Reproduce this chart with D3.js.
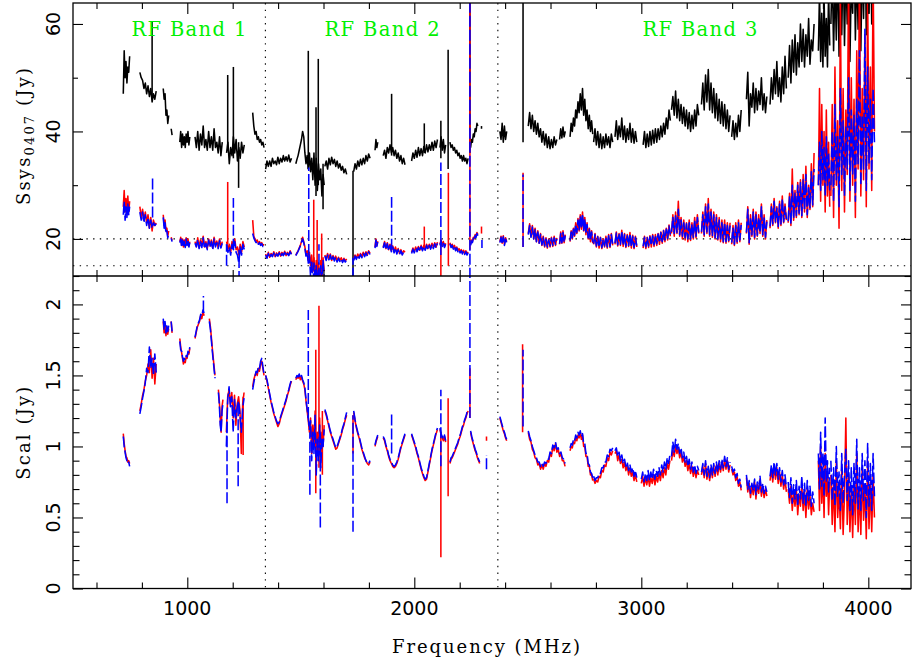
<!DOCTYPE html>
<html><head><meta charset="utf-8">
<script src="https://cdn.jsdelivr.net/npm/d3@7"></script>
<style>body{margin:0;background:#fff}svg{display:block}</style>
</head><body>
<svg id="chart" width="912" height="664"></svg>
<script>
// ---------------- DATA ----------------
// Each segment: [start frequency MHz, step MHz, values]
const ssysBlack = [
 [718,4,[47,55,50,53,49,52,51,54]],
 [791,6,[51,50,49.5,48,49,47,48.5,46.5,48,45.5,47,46,47.5]],
 [894,4,[48,46,47,43,44,41.5,43]],
 [929,4,[40.5,39.3]],
 [967,4,[38,40,37,39.5,37.5,39,37,39.5,38,40,37.5,39]],
 [1034,6,[39,37,40,36.5,39.5,37.5,41,37,38.5,36.5,40,37,39,36.5,40.5,37,38,36,39,35.5,38]],
 [1173,6,[36,38,34,37,35.5,39,36,38.5,34.5,37,35,38,36,37.5]],
 [1288,5,[43.5,41,39.5,40,38.5,39,38,38.5,37.5,38,37]],
 [1345,6,[33,34.5,33.5,34.5,33.5,35,34,34.5,33.8,35.2,34,35,34.3,35.5,34.5,35.3,34.5,35.6,34.3,35]],
 [1478,5,[34,34.8,35.5,36.5,37.5,38.5,40,39,36,34,35.5,33,36,32.5,35,31,36,30,35,29,34,31,33,28,32,30]],
 [1606,6,[33.5,34.5,33,35,33.8,35.2,34,34.8,33.5,34.5,33.2,34,32.8,33.5,32.3,33,32]],
 [1733,6,[32.5,34,33,34.5,33.5,34.8,33.8,35,34,35.5,34.5,35.8,35]],
 [1827,4,[36.5,38.5,37,38]],
 [1863,6,[35.5,36.5,35,37,36,37.5,36,37,35.5,36.5,35,36,34.5,35.5,34,35,33.8]],
 [1988,6,[34.5,36,35,36.5,35.2,37,35.5,36.8,35.5,37.2,36,37.5,36.2,37.5,36.5,38,36.5,38.2,37,38.5]],
 [2113,5,[37,39,36.5,38.5,36,37.5]],
 [2157,5,[38,37,37.5,36.5,37,36,36.5,35.5,36,35,35.5,34.5,35.5,34.5,35,34,35]],
 [2248,4,[37,38.5,38,39.5,39,40.5,40,41.5,41]],
 [2377,5,[40,38.5,41.5,38,41,38.5,40]],
 [2502,6,[41,43.5,40.5,43,40,42,39.5,41.5,39,40.5,38,40,37.5,39.5,37,39,36.8,38.5,37,39,37.5,38.5]],
 [2640,5,[38.5,40.5,38.8,40.8,39,40]],
 [2686,5,[39,41.5,40,42.5,41,44,42.5,45.5,43.5,47,44,48,43,46,42,44,40.5,43,40,42,39.5]],
 [2790,6,[38,40.5,37.5,40,37,39.5,36.8,39,37,39.5,37.5,39,37,39.5,38]],
 [2884,6,[39,42,38.5,41,39,42.5,38.5,41,38,40.5,38.5,41.5,38,40.5,37.8,40,38]],
 [3008,6,[37.5,40,37,39.5,37.2,40,37.5,40.2,37.8,40.5,38,40.5,38.5,41,39,41.5,39.5,42.5,40.5,44,42]],
 [3133,6,[44,46.5,43,47.5,42.5,46,42,45,41.5,44.5,41,44,40.5,43.5,40,43,40.5,44,41,45,43]],
 [3265,6,[45,49,44,50.5,45.5,51.5,44,49,43.5,48,42.5,47,42,46,41.5,45.5,41,45,40.5,44,40,43]],
 [3398,6,[39,42,38.5,41.5,39,43,40,44]],
 [3463,6,[46,51,41,47,44.5,49,43.5,48,44,47.5,45,50,44,47,43.5,46.5]],
 [3567,6,[45,50,46,51.5,47,53,46.5,50,45.5,52,47,54,48]],
 [3647,6,[50,56,49,57,51,58,50.5,56.5,52,60,53,59,52,58,54,61,52.5,57,55,60]],
 [3780,5,[55,66,53,62,52,65,54,61,52,66,56]],
 [3835,6,[60,70,55,68,57,72,54,66,58,74,56,70,60,75,53,68,62,76,57,70,59,78,55,72,61,80,58,74,62,82,60,78,66]]
];
const ssysBlackSpikes = [[845,46,60.5],[1178,37,50.5],[1203,35,52],[1226,29.5,38],[1533,33,55],[1567,28,44.5],[1577,30,53.5],[1598,25.5,34],[1730,10,32.7],[1900,35.5,47],[2044,36,41.5],[2117,35,42],[2149,33,55.2],[2245,36,70],[2296,40.5,41],[2479,38,70]];

const ssysRed = [
 [718,4,[26,29,25,27.5,24.5,28,25,27]],
 [791,6,[26,24,25.5,23.5,25,23,24.5,22,24,21.5,23.5,22.5,23]],
 [894,4,[24.5,22.5,23.5,21.5,22,20.5,21.5]],
 [929,4,[20.3,19.7]],
 [967,4,[19.5,20.3,18.8,20,18.5,19.8,18.6,20.2,19,20,18.7,19.5]],
 [1034,6,[19.5,18.6,20.2,18.4,19.8,18.8,20.5,18.5,19.5,18.2,20,18.7,19.8,18.3,20.3,18.8,19.6,18.4,20,18.5,19.5]],
 [1173,6,[19.5,18,19,17.5,19.5,18.5,20,18,18.5,17,19,17.5,19.5,18.5]],
 [1288,5,[23.5,20.5,20,19.5,19.8,19.2,19.5,19,19.3,18.8,19]],
 [1345,6,[17.2,16.5,17.5,16.6,17.3,16.8,17.6,16.7,17.4,16.9,17.6,16.8,17.5,17,17.7,16.9,17.5,17,17.8,17.2]],
 [1478,5,[17,17.4,17.8,18.3,18.8,19.5,20.3,19.5,18.5,17,17.8,16,17.5,15,17,14,16.5,12,16,13,15.5,11,16,12,16.5,14]],
 [1606,6,[17,16.2,17.3,16.3,17.2,16,16.9,16.1,16.8,15.9,16.6,16,16.5,15.8,16.4,15.9,16.3]],
 [1733,6,[16.2,17,16.4,17.2,16.6,17.3,16.7,17.5,16.9,17.6,17,17.8,17.3]],
 [1827,4,[18.5,20,18.8,19.6]],
 [1863,6,[18.5,19.5,18.2,19.3,18,19,17.8,18.7,17.6,18.5,17.4,18.2,17.3,18,17.2,17.8,17.5]],
 [1988,6,[17.5,18.3,17.6,18.5,17.8,18.6,17.9,18.8,18,18.8,18.1,19,18.2,19,18.3,19.2,18.4,19.3,18.5,19.4]],
 [2113,5,[19,19.8,18.8,19.5,18.6,19.2]],
 [2157,5,[19.3,18.6,19,18.3,18.8,18,18.5,17.8,18.2,17.6,18,17.4,17.9,17.3,17.8,17.2,17.6]],
 [2248,4,[19,19.8,19.5,20.3,20,20.8,20.5,21.2,20.8]],
 [2377,5,[19.5,20.5,19.2,20.6,19,20.2,19.5]],
 [2502,6,[21,22.8,20.5,22.5,20,22,19.5,21.5,19.2,21,18.8,20.5,18.5,20.2,18.3,20,18.5,20.3,18.6,20.5,18.8,20.2]],
 [2640,5,[19,21.3,19.2,21.5,19.3,20.8]],
 [2686,5,[19.5,21.5,20,22,20.5,23,21,23.8,21.5,24.5,21.8,25,21.5,24,20.8,23,20,22,19.5,21.5,19.2]],
 [2790,6,[19,21,18.5,20.5,18.3,20.3,18.2,20,18.5,20.5,18.3,20.8,18.4,21,18.8]],
 [2884,6,[19,21.3,18.7,21,18.8,21.6,18.6,21,18.4,20.8,18.6,21.2,18.3,20.7,18.2,20.5,18.5]],
 [3008,6,[18.3,20.5,18.2,20.3,18.4,20.6,18.5,20.8,18.6,20.8,18.8,21,19,21.3,19.2,21.6,19.5,22,19.8,22.6,20.5]],
 [3133,6,[21,24.5,20.5,25,21,27,20.5,24,20,23.5,19.8,23,19.5,23.5,19.7,23,20,24,20.2,24.5,21]],
 [3265,6,[21,25,20.5,26.5,21,27.5,20.5,25.5,20.3,25,20,24.5,19.8,24,19.5,23.5,19.3,23.5,19.2,23,19.5,23]],
 [3398,6,[19,22.5,18.8,23,19.2,23.5,19.5,23]],
 [3463,6,[21,26,19,24.5,20.5,25.5,20,25,20.5,24.5,21,26.5,20.5,24.5,20,23.5]],
 [3567,6,[22,26.5,22.5,27.5,23,26,22,27,22.5,28,23,26.5,23.5]],
 [3647,6,[23,28.5,22.5,33,23.5,29,24,30.5,24.5,31,24,32,25,33.5,24,30,25.5,34,26,36]],
 [3780,5,[30,48,27,45,30,40,25,44,28,38,26]],
 [3835,6,[28,45,24,52,30,42,22,64,29,48,25,44,32,70,27,50,30,46,24,55,33,70,28,48,31,58,26,66,33,52,29,70,40]]
];
const ssysRedSpikes = [[1178,19,30.6],[1557,14,27.3],[1572,10,23.5],[1592,10,21],[2044,18.5,22.3],[2117,10,19],[2150,15,32.3],[2245,18,70],[2296,21,22.3],[2479,18.5,32.3]];

const ssysBlue = [
 [718,4,[24.5,27,23.5,26,24,26.5,24.5,26]],
 [791,6,[25,23.5,25,23,24.5,22.5,24,22,23.5,22,23,22.5,22.8]],
 [894,4,[24,22,23,21,21.5,20.2,21]],
 [929,4,[20.1,19.5]],
 [967,4,[19.3,20,18.5,19.8,18.7,19.5,18.4,20,18.8,19.7,18.5,19.3]],
 [1034,6,[19.2,18.5,19.9,18.2,19.5,18.4,20.2,18.2,19.2,18,19.8,18.5,19.5,18,20,18.5,19.3,18.2,19.7,18.3,19.2]],
 [1173,6,[19,17.5,18.5,17,19,18,19.5,17.5,17,15.5,18.5,17,19,18]],
 [1288,5,[21,20.2,19.7,19.3,19.6,19,19.3,18.8,19.1,18.6,18.8]],
 [1345,6,[17,16.4,17.3,16.5,17.1,16.7,17.4,16.6,17.2,16.8,17.4,16.7,17.3,16.9,17.5,16.8,17.3,16.9,17.6,17.1]],
 [1478,5,[16.9,17.3,17.7,18.2,18.7,19.4,20,19.3,18.3,16.8,17.5,15.5,17,13,16,11,15.5,12,15,11,14.5,10,15,11,16,13]],
 [1606,6,[16.8,16,17,16.1,17,15.9,16.7,15.9,16.6,15.7,16.4,15.8,16.3,15.6,16.2,15.7,16.1]],
 [1733,6,[16,16.8,16.2,17,16.4,17.1,16.5,17.3,16.7,17.4,16.8,17.6,17.1]],
 [1827,4,[18.3,19.8,18.6,19.4]],
 [1863,6,[18.3,19.3,18,19.1,17.8,18.8,17.6,18.5,17.4,18.3,17.2,18,17.1,17.8,17,17.6,17.3]],
 [1988,6,[17.3,18.1,17.4,18.3,17.6,18.4,17.7,18.6,17.8,18.6,17.9,18.8,18,18.8,18.1,19,18.2,19.1,18.3,19.2]],
 [2113,5,[18.8,19.6,18.6,19.3,18.4,19]],
 [2157,5,[19.1,18.4,18.8,18.1,18.6,17.8,18.3,17.6,18,17.4,17.8,17.2,17.7,17.1,17.6,17,17.4]],
 [2248,4,[18.8,19.6,19.3,20.1,19.8,20.6,20.3,21,20.6]],
 [2377,5,[19.3,20.3,19,20.4,18.8,20,19.3]],
 [2502,6,[20.8,22.5,20.3,22.2,20,21.7,19.5,21.3,19.2,20.8,18.9,20.3,18.7,20,18.5,19.8,18.7,20.1,18.8,20.2,19,20]],
 [2640,5,[19.1,21,19.3,21.2,19.4,20.6]],
 [2686,5,[19.7,21.3,20.2,21.8,20.7,22.7,21.2,23.5,21.7,24.2,22,24.6,21.6,23.7,21,22.7,20.2,21.8,19.7,21.3,19.4]],
 [2790,6,[19.1,20.8,18.7,20.4,18.5,20.2,18.4,19.9,18.7,20.4,18.5,20.6,18.6,20.8,19]],
 [2884,6,[19.2,21.1,18.9,20.8,19,21.4,18.8,20.8,18.6,20.6,18.8,21,18.5,20.5,18.4,20.3,18.7]],
 [3008,6,[18.6,20.3,18.5,20.2,18.7,20.4,18.8,20.6,18.9,20.7,19.1,20.9,19.3,21.2,19.5,21.5,19.8,21.8,20.1,22.4,20.8]],
 [3133,6,[21.3,24,21,24.3,21.2,25.5,20.8,23.5,20.5,23,20.2,22.8,20,23,20,22.7,20.3,23.5,20.5,24,21.2]],
 [3265,6,[21.3,24.5,20.8,26,21.3,26.5,20.8,25,20.5,24.5,20.2,24,20,23.5,19.8,23,19.5,23,19.5,22.5,19.7,22.5]],
 [3398,6,[19.3,22,19,22.5,19.5,23,19.8,22.6]],
 [3463,6,[21.2,25.5,19.3,24,20.8,25,20.3,24.5,20.7,24,21.2,26,20.8,24,20.3,23.2]],
 [3567,6,[22.3,26,22.8,27,23.2,25.7,22.3,26.5,22.8,27.5,23.2,26,23.7]],
 [3647,6,[23.3,28,22.8,30,23.8,28.5,24.3,30,24.8,30.5,24.3,31,25.3,32,24.5,29.5,25.8,32.5,26.3,33]],
 [3780,5,[30,38,29,40,31,37,28,39,30,36,29]],
 [3835,6,[30,40,27,45,31,39,26,48,32,42,28,41,33,50,29,44,32,43,27,46,34,55,30,43,33,59,29,52,34,46,31,48,38]]
];
const ssysBlueSpikes = [[847,24,31.5],[1173,15,19],[1203,18,27.6],[1228,12,18],[1535,17,33.3],[1580,10,19],[1730,10,16.5],[1900,18,27.8],[2117,17,34.2],[2245,10,70],[2298,18.3,19.8],[2479,18.5,32]];

const scalRed = [
 [718,4,[1.09,1.02,0.97,0.93,0.92,0.89,0.9,0.88]],
 [791,6,[1.25,1.3,1.36,1.4,1.46,1.5,1.58,1.52,1.68,1.48,1.62,1.44,1.58]],
 [894,4,[1.88,1.8,1.86,1.78,1.84,1.79,1.83]],
 [929,4,[1.88,1.8]],
 [967,4,[1.76,1.7,1.66,1.62,1.58,1.6,1.59,1.63,1.62,1.66,1.65,1.69]],
 [1034,5,[1.76,1.8,1.84,1.86,1.88,1.92,1.9,1.95,1.92]],
 [1097,5,[1.9,1.84,1.75,1.66,1.58,1.5]],
 [1137,4,[1.4,1.32,1.2,1.1,1.28,1.33]],
 [1172,6,[1.1,1.35,1.4,1.3,1.38,1.2,1.36,1.15,1.3,1.35,1.25,0.95,1.3,1.38]],
 [1288,5,[1.42,1.47,1.5,1.52,1.5,1.55,1.53,1.58,1.6,1.55,1.5]],
 [1345,6,[1.5,1.46,1.41,1.36,1.31,1.27,1.23,1.2,1.17,1.14,1.16,1.2,1.23,1.26,1.29,1.32,1.36,1.39,1.43,1.46]],
 [1478,5,[1.47,1.49,1.48,1.5,1.47,1.49,1.46,1.44,1.4,1.32,1.25,1.18,1.1,1.2,0.95,1.15,1.0,1.25,0.85,1.1,0.95,1.2,0.9,1.1,1.0,1.15]],
 [1606,6,[1.25,1.22,1.18,1.14,1.1,1.07,1.04,1.01,0.98,0.99,1.02,1.05,1.08,1.12,1.15,1.19,1.22]],
 [1733,6,[1.24,1.18,1.13,1.09,1.06,1.02,0.98,0.95,0.92,0.9,0.88,0.87,0.89]],
 [1827,4,[1.0,1.03,1.05,1.07]],
 [1863,6,[1.06,1.04,1.0,0.97,0.93,0.9,0.88,0.86,0.85,0.86,0.88,0.91,0.95,0.99,1.02,1.05,1.08]],
 [1988,6,[1.08,1.05,1.02,0.99,0.95,0.92,0.88,0.84,0.81,0.78,0.76,0.77,0.82,0.87,0.92,0.97,1.01,1.05,1.09,1.12]],
 [2113,5,[1.12,1.08,1.06,1.04,1.07,1.03]],
 [2157,5,[0.88,0.91,0.92,0.94,0.96,0.98,1.0,1.02,1.05,1.07,1.1,1.13,1.15,1.18,1.2,1.23,1.25]],
 [2248,5,[1.1,1.06,1.03,1.0,0.97,0.95,0.92,0.9,0.88]],
 [2377,5,[1.2,1.17,1.14,1.11,1.09,1.06,1.04]],
 [2502,6,[1.1,1.05,1.03,0.98,0.96,0.92,0.91,0.87,0.88,0.84,0.87,0.84,0.88,0.86,0.9,0.89,0.95,0.93,1.0,0.97,1.02,0.96,0.98,0.93,0.95,0.9,0.9,0.86]],
 [2686,5,[0.97,1.0,0.99,1.03,1.02,1.06,1.04,1.08,1.06,1.1,1.05,1.08,1.0,1.0,0.93,0.93,0.86,0.86,0.8,0.8,0.76]],
 [2790,6,[0.77,0.74,0.76,0.75,0.79,0.78,0.83,0.82,0.87,0.86,0.92,0.9,0.96,0.94,0.97]],
 [2884,6,[0.95,0.97,0.9,0.94,0.88,0.91,0.85,0.89,0.83,0.87,0.8,0.85,0.79,0.82,0.76,0.8,0.75]],
 [3000,6,[0.74,0.79,0.72,0.78,0.73,0.79,0.72,0.78,0.74,0.8,0.73,0.79,0.75,0.81,0.76,0.83,0.78,0.85,0.8,0.88,0.84,0.9]],
 [3133,6,[0.9,0.97,0.93,1.0,0.95,0.99,0.92,0.96,0.89,0.93,0.86,0.9,0.83,0.88,0.81,0.86,0.79,0.84,0.78,0.83,0.8]],
 [3265,6,[0.8,0.86,0.78,0.88,0.77,0.84,0.76,0.85,0.78,0.86,0.79,0.87,0.8,0.88,0.82,0.89,0.83,0.91,0.84,0.9,0.82,0.87]],
 [3398,6,[0.84,0.8,0.82,0.76,0.79,0.72,0.75,0.69]],
 [3463,6,[0.78,0.68,0.74,0.64,0.72,0.66,0.75,0.63,0.73,0.67,0.77,0.65,0.72,0.64,0.7,0.65]],
 [3567,6,[0.76,0.84,0.75,0.86,0.77,0.85,0.74,0.82,0.72,0.8,0.7,0.77,0.68]],
 [3647,6,[0.7,0.6,0.72,0.55,0.68,0.58,0.7,0.52,0.66,0.58,0.72,0.55,0.68,0.5,0.7,0.56,0.65,0.52,0.6,0.54]],
 [3780,5,[0.9,0.55,1.0,0.6,0.85,0.5,0.95,0.65,0.8,0.52,0.75]],
 [3835,6,[0.8,0.45,0.75,0.4,0.9,0.5,0.7,0.42,0.85,0.38,0.65,1.2,0.45,0.8,0.4,0.7,0.36,0.75,0.45,0.95,0.4,0.7,0.38,0.85,0.48,0.72,0.35,0.9,0.42,0.75,0.4,0.8,0.5]]
];
const scalRedSpikes = [[1246,0.94,1.35],[1566,0.67,1.68],[1580,0.85,1.99],[1595,0.8,1.25],[1730,0.95,1.22],[2117,0.22,1.1],[2149,0.65,1.34],[2245,1.2,1.55],[2318,1.04,1.07],[2477,1.1,1.72]];

const scalBlue = [
 [718,4,[1.07,1.0,0.96,0.92,0.9,0.88,0.89,0.86]],
 [791,6,[1.23,1.28,1.34,1.39,1.45,1.55,1.52,1.7,1.55,1.62,1.5,1.65,1.52]],
 [894,4,[1.9,1.82,1.88,1.8,1.86,1.81,1.85]],
 [929,4,[1.88,1.81]],
 [967,4,[1.74,1.68,1.67,1.63,1.6,1.62,1.61,1.64,1.63,1.67,1.66,1.7]],
 [1034,5,[1.77,1.81,1.85,1.87,1.89,1.93,1.92,1.96,1.94]],
 [1097,5,[1.88,1.82,1.73,1.64,1.56,1.48]],
 [1137,4,[1.38,1.3,1.15,1.1,1.25,1.3]],
 [1172,6,[1.0,1.33,1.42,1.28,1.35,1.1,1.33,1.2,1.28,1.32,1.22,1.1,1.27,1.34]],
 [1288,5,[1.4,1.45,1.49,1.53,1.52,1.56,1.55,1.6,1.62,1.56,1.51]],
 [1345,6,[1.5,1.47,1.42,1.37,1.32,1.28,1.24,1.21,1.18,1.16,1.17,1.21,1.24,1.27,1.3,1.33,1.37,1.4,1.44,1.47]],
 [1478,5,[1.48,1.5,1.49,1.51,1.48,1.5,1.47,1.45,1.41,1.33,1.26,1.2,1.12,1.18,0.9,1.1,0.95,1.22,0.8,1.05,0.9,1.15,0.85,1.05,1.0,1.12]],
 [1606,6,[1.26,1.23,1.19,1.15,1.11,1.08,1.05,1.02,0.99,1.0,1.03,1.06,1.09,1.13,1.16,1.2,1.24]],
 [1733,6,[1.25,1.19,1.14,1.1,1.07,1.03,0.99,0.96,0.93,0.9,0.88,0.88,0.9]],
 [1827,4,[1.01,1.04,1.06,1.08]],
 [1863,6,[1.07,1.05,1.01,0.98,0.94,0.91,0.89,0.87,0.86,0.87,0.89,0.92,0.96,1.0,1.03,1.06,1.09]],
 [1988,6,[1.09,1.06,1.03,1.0,0.96,0.93,0.89,0.85,0.82,0.79,0.77,0.78,0.83,0.88,0.93,0.98,1.02,1.06,1.1,1.13]],
 [2113,5,[1.13,1.09,1.07,1.05,1.08,1.04]],
 [2157,5,[0.89,0.92,0.93,0.95,0.97,0.99,1.01,1.03,1.06,1.08,1.11,1.14,1.16,1.19,1.21,1.24,1.26]],
 [2248,5,[1.11,1.07,1.04,1.01,0.98,0.96,0.93,0.91,0.89]],
 [2377,5,[1.21,1.18,1.15,1.12,1.1,1.07,1.05]],
 [2502,6,[1.11,1.07,1.04,1.0,0.97,0.94,0.92,0.89,0.89,0.86,0.88,0.86,0.89,0.88,0.91,0.91,0.96,0.95,1.01,0.99,1.03,0.98,0.99,0.95,0.96,0.92,0.91,0.88]],
 [2686,5,[0.99,1.02,1.01,1.05,1.04,1.08,1.06,1.1,1.08,1.11,1.07,1.09,1.02,1.02,0.95,0.95,0.88,0.87,0.82,0.81,0.78]],
 [2790,6,[0.79,0.76,0.78,0.78,0.81,0.81,0.85,0.85,0.89,0.89,0.94,0.93,0.98,0.97,0.99]],
 [2884,6,[0.97,0.99,0.93,0.96,0.9,0.94,0.88,0.91,0.86,0.89,0.83,0.87,0.82,0.85,0.79,0.83,0.78]],
 [3000,6,[0.77,0.82,0.75,0.81,0.76,0.83,0.76,0.82,0.77,0.84,0.77,0.83,0.79,0.85,0.8,0.87,0.82,0.89,0.84,0.92,0.88,0.94]],
 [3133,6,[0.93,1.03,0.96,1.05,0.98,1.02,0.95,0.99,0.92,0.96,0.89,0.93,0.86,0.91,0.84,0.89,0.82,0.87,0.81,0.86,0.83]],
 [3265,6,[0.82,0.88,0.8,0.9,0.79,0.86,0.78,0.87,0.8,0.88,0.81,0.89,0.82,0.9,0.84,0.91,0.85,0.93,0.86,0.92,0.84,0.89]],
 [3398,6,[0.86,0.82,0.84,0.78,0.81,0.74,0.77,0.71]],
 [3463,6,[0.8,0.7,0.76,0.67,0.74,0.69,0.77,0.66,0.75,0.7,0.79,0.68,0.74,0.67,0.72,0.68]],
 [3567,6,[0.79,0.87,0.78,0.89,0.8,0.88,0.77,0.85,0.75,0.83,0.73,0.8,0.71]],
 [3647,6,[0.75,0.64,0.78,0.6,0.73,0.63,0.76,0.58,0.72,0.63,0.79,0.6,0.74,0.58,0.76,0.62,0.72,0.58,0.68,0.6]],
 [3780,5,[0.95,0.7,1.1,0.72,0.95,0.65,1.2,0.75,0.9,0.68,0.85]],
 [3835,6,[0.9,0.62,0.85,0.58,1.0,0.65,0.82,0.55,0.95,0.6,0.8,0.98,0.62,0.9,0.55,0.85,0.52,0.88,0.6,1.05,0.56,0.85,0.55,0.95,0.62,0.9,0.5,1.02,0.58,0.88,0.55,0.95,0.65]]
];
const scalBlueSpikes = [[1071,1.95,2.06],[1175,0.6,1.2],[1224,0.72,1.3],[1533,1.2,1.96],[1540,0.66,1.1],[1586,0.43,1.1],[1730,0.4,1.22],[1900,0.95,1.24],[2117,0.86,1.4],[2245,1.2,2.4],[2318,0.84,0.94],[2479,1.14,1.68]];

const bandEdges = [1344, 2368];
const bandLabels = ["RF Band 1", "RF Band 2", "RF Band 3"];
const bandLabelFreq = [1007, 1858, 3258];
const ssysRefLines = [20, 15];
const xMajorTicks = [1000, 2000, 3000, 4000];
const xMinorTicks = [600, 800, 1200, 1400, 1600, 1800, 2200, 2400, 2600, 2800, 3200, 3400, 3600, 3800, 4200];
const ssysMajorTicks = [20, 40, 60];
const ssysMinorTicks = [30, 50];
const scalMajorTicks = [0, 0.5, 1, 1.5, 2];
const scalMinorTicks = [0.1,0.2,0.3,0.4,0.6,0.7,0.8,0.9,1.1,1.2,1.3,1.4,1.6,1.7,1.8,1.9,2.1,2.2];

// ---------------- LAYOUT ----------------
const L = 73, R = 911, T = 3, MID = 276, B = 588.5;
const x = d3.scaleLinear().domain([496.5, 4188]).range([L, R]);
const yTop = d3.scaleLinear().domain([13.1, 63.9]).range([MID, T]);
const yBot = d3.scaleLinear().domain([0, 2.2]).range([B, MID]);

const svg = d3.select('#chart');
svg.append('rect').attr('width', 912).attr('height', 664).attr('fill', '#fff');
const defs = svg.append('defs');
defs.append('clipPath').attr('id', 'clipTop').append('rect')
  .attr('x', L).attr('y', T).attr('width', R - L).attr('height', MID - T);
defs.append('clipPath').attr('id', 'clipBot').append('rect')
  .attr('x', L).attr('y', MID).attr('width', R - L).attr('height', B - MID);

const TEXT_SERIF = "'DejaVu Serif', 'Liberation Serif', serif";
const TEXT_SANS = "'DejaVu Sans', 'Liberation Sans', sans-serif";

// reference dotted lines
const gRef = svg.append('g').attr('stroke', '#000').attr('stroke-width', 1.1)
  .attr('stroke-dasharray', '1.4,5.3').attr('fill', 'none');
ssysRefLines.forEach(v => gRef.append('line')
  .attr('x1', L).attr('x2', R).attr('y1', yTop(v)).attr('y2', yTop(v)));
bandEdges.forEach(f => gRef.append('line')
  .attr('x1', x(f)).attr('x2', x(f)).attr('y1', T).attr('y2', B));

function segPoints(seg) {
  const [f0, df, vals] = seg;
  return vals.map((v, i) => [f0 + i * df, v]);
}
function drawSeries(clipId, y, segs, spikes, color, dash) {
  const g = svg.append('g').attr('clip-path', `url(#${clipId})`)
    .attr('fill', 'none').attr('stroke', color).attr('stroke-width', 1.55)
    .attr('stroke-linejoin', 'round');
  if (dash) g.attr('stroke-dasharray', dash);
  const line = d3.line().x(d => x(d[0])).y(d => y(d[1]));
  segs.forEach(s => g.append('path').attr('d', line(segPoints(s))));
  spikes.forEach(([f, lo, hi]) => g.append('path').attr('d', line([[f, lo], [f, hi]])));
}

drawSeries('clipTop', yTop, ssysBlack, ssysBlackSpikes, '#000', null);
drawSeries('clipTop', yTop, ssysRed, ssysRedSpikes, '#ff0000', null);
drawSeries('clipTop', yTop, ssysBlue, ssysBlueSpikes, '#0000ff', '11,3');
drawSeries('clipBot', yBot, scalRed, scalRedSpikes, '#ff0000', null);
drawSeries('clipBot', yBot, scalBlue, scalBlueSpikes, '#0000ff', '11,3');

// ---------------- AXES ----------------
function styleAxis(g) {
  g.select('.domain').remove();
  g.selectAll('.tick line').attr('stroke', '#000').attr('stroke-width', 1.1);
  g.selectAll('.tick text').remove();
}
function addAxis(axis, tx, ty) {
  const g = svg.append('g').attr('transform', `translate(${tx},${ty})`).call(axis);
  styleAxis(g);
  return g;
}
[[d3.axisBottom, B], [d3.axisTop, MID], [d3.axisBottom, MID], [d3.axisTop, T]].forEach(([fn, yy]) => {
  addAxis(fn(x).tickValues(xMajorTicks).tickSize(-11).tickSizeOuter(0), 0, yy);
  addAxis(fn(x).tickValues(xMinorTicks.filter(t => x(t) <= R)).tickSize(-6).tickSizeOuter(0), 0, yy);
});
addAxis(d3.axisLeft(yTop).tickValues(ssysMajorTicks).tickSize(-10).tickSizeOuter(0), L, 0);
addAxis(d3.axisLeft(yTop).tickValues(ssysMinorTicks).tickSize(-5).tickSizeOuter(0), L, 0);
addAxis(d3.axisRight(yTop).tickValues(ssysMajorTicks).tickSize(-10).tickSizeOuter(0), R, 0);
addAxis(d3.axisRight(yTop).tickValues(ssysMinorTicks).tickSize(-5).tickSizeOuter(0), R, 0);
addAxis(d3.axisLeft(yBot).tickValues(scalMajorTicks).tickSize(-10).tickSizeOuter(0), L, 0);
addAxis(d3.axisLeft(yBot).tickValues(scalMinorTicks).tickSize(-6.5).tickSizeOuter(0), L, 0);
addAxis(d3.axisRight(yBot).tickValues(scalMajorTicks).tickSize(-10).tickSizeOuter(0), R, 0);
addAxis(d3.axisRight(yBot).tickValues(scalMinorTicks).tickSize(-6.5).tickSizeOuter(0), R, 0);

// frame
svg.append('rect').attr('x', L).attr('y', T).attr('width', R - L).attr('height', B - T)
  .attr('fill', 'none').attr('stroke', '#000').attr('stroke-width', 1.3);
svg.append('line').attr('x1', L).attr('x2', R).attr('y1', MID).attr('y2', MID)
  .attr('stroke', '#000').attr('stroke-width', 1.3);

// tick labels
const gLab = svg.append('g').attr('font-family', TEXT_SANS).attr('font-size', 19).attr('fill', '#000');
xMajorTicks.forEach(t => gLab.append('text').attr('x', x(t)).attr('y', 615)
  .attr('text-anchor', 'middle').text(d3.format('d')(t)));
ssysMajorTicks.forEach(t => gLab.append('text')
  .attr('transform', `translate(60,${yTop(t)}) rotate(-90)`)
  .attr('text-anchor', 'middle').text(t));
scalMajorTicks.forEach(t => gLab.append('text')
  .attr('transform', `translate(60,${yBot(t)}) rotate(-90)`)
  .attr('text-anchor', 'middle').text(t));

// axis titles
svg.append('text').attr('x', 486).attr('y', 653).attr('text-anchor', 'middle')
  .attr('font-family', TEXT_SERIF).attr('font-size', 18)
  .attr('textLength', 188).attr('lengthAdjust', 'spacing')
  .text('Frequency (MHz)');
const ssysTitle = svg.append('text')
  .attr('transform', 'translate(30,136.5) rotate(-90)').attr('text-anchor', 'middle')
  .attr('font-family', TEXT_SERIF).attr('font-size', 18)
  .attr('textLength', 137).attr('lengthAdjust', 'spacing');
ssysTitle.append('tspan').text('Ssys');
ssysTitle.append('tspan').attr('font-size', 13).attr('dy', 4).text('0407');
ssysTitle.append('tspan').attr('dy', -4).text(' (Jy)');
svg.append('text').attr('transform', `translate(30,${(yBot(0) + yBot(2.2)) / 2 + 1}) rotate(-90)`)
  .attr('text-anchor', 'middle').attr('font-family', TEXT_SERIF).attr('font-size', 18)
  .attr('textLength', 93).attr('lengthAdjust', 'spacing').text('Scal (Jy)');

// band labels
bandLabels.forEach((lab, i) => svg.append('text')
  .attr('x', x(bandLabelFreq[i])).attr('y', 36).attr('text-anchor', 'middle')
  .attr('font-family', TEXT_SERIF).attr('font-size', 19.5).attr('fill', '#00f000')
  .attr('textLength', 115).attr('lengthAdjust', 'spacing').text(lab));
</script>
</body></html>
